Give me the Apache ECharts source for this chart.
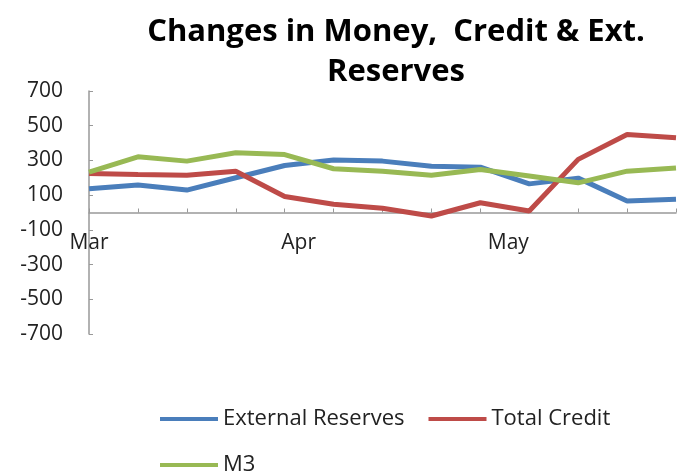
<!DOCTYPE html>
<html>
<head>
<meta charset="utf-8">
<script src="https://cdn.jsdelivr.net/npm/echarts@6/dist/echarts.min.js"></script>
<style>html,body{margin:0;padding:0;background:#fff}#c{width:694px;height:476px}</style>
</head>
<body>
<div id="c"></div>
<script>
var dates = ['2013-03-02','2013-03-09','2013-03-16','2013-03-23','2013-03-30','2013-04-06','2013-04-13','2013-04-20','2013-04-27','2013-05-04','2013-05-11','2013-05-18','2013-05-25'];
var monthTicks = ['2013-03-02','2013-04-01','2013-05-01'];
var monthNames = ['Jan','Feb','Mar','Apr','May','Jun','Jul','Aug','Sep','Oct','Nov','Dec'];
var externalReserves = [137,158,129,200,271,302,296,267,261,165,198,66,76];
var totalCredit = [225,219,214,238,92,47,24,-20,56,9,306,449,430];
var m3 = [232,321,296,344,334,252,238,215,248,210,171,238,257];

function ts(s){var p=s.split('-');return Date.UTC(+p[0],+p[1]-1,+p[2]);}
var dTs = dates.map(ts);
function pairs(arr){return arr.map(function(v,i){return [dTs[i],v];});}

var font = 'Open Sans';
var GRID_TOP = 91, GRID_BOTTOM = 142, H = 476;
var plotH = H - GRID_TOP - GRID_BOTTOM;
var chart = echarts.init(document.getElementById('c'));
chart.setOption({
  animation:false,
  title:{
    text:'Changes in Money,  Credit & Ext.\nReserves',
    left:391, top:7, textAlign:'center',
    textStyle:{fontFamily:font,fontWeight:'bold',fontSize:31,lineHeight:40,color:'#000'}
  },
  grid:{left:89,right:18,top:GRID_TOP,bottom:GRID_BOTTOM,containLabel:false},
  legend:{
    left:160, top:408, width:500, padding:0,
    icon:'rect', itemWidth:58, itemHeight:4, itemGap:24,
    textStyle:{fontFamily:font,fontSize:22,lineHeight:22,color:'#222'},
    data:['External Reserves','Total Credit','M3']
  },
  xAxis:{
    type:'value', position:'bottom', offset:-plotH/2,
    min:dTs[0], max:dTs[dTs.length-1],
    axisLine:{onZero:false,lineStyle:{color:'#999',width:1.5}},
    axisTick:{show:true,inside:true,length:4,customValues:dTs,lineStyle:{color:'#999'}},
    axisLabel:{
      customValues:monthTicks.map(ts),
      formatter:function(v){return monthNames[new Date(v).getUTCMonth()];},
      fontFamily:font,fontSize:21,color:'#222',margin:20,showMinLabel:true,showMaxLabel:true
    },
    splitLine:{show:false}
  },
  yAxis:{
    type:'value', min:-700, max:700, interval:200,
    axisLine:{show:true,lineStyle:{color:'#999',width:1.5}},
    axisTick:{show:true,inside:true,length:4,lineStyle:{color:'#999'}},
    axisLabel:{fontFamily:font,fontSize:21,color:'#222',margin:26},
    splitLine:{show:false}
  },
  series:[
    {name:'External Reserves',type:'line',symbol:'none',data:pairs(externalReserves),lineStyle:{width:5,color:'#4A7EBB'},itemStyle:{color:'#4A7EBB'}},
    {name:'Total Credit',type:'line',symbol:'none',data:pairs(totalCredit),lineStyle:{width:5,color:'#BE4B48'},itemStyle:{color:'#BE4B48'}},
    {name:'M3',type:'line',symbol:'none',data:pairs(m3),lineStyle:{width:5,color:'#98B954'},itemStyle:{color:'#98B954'}}
  ]
});
</script>
</body>
</html>
